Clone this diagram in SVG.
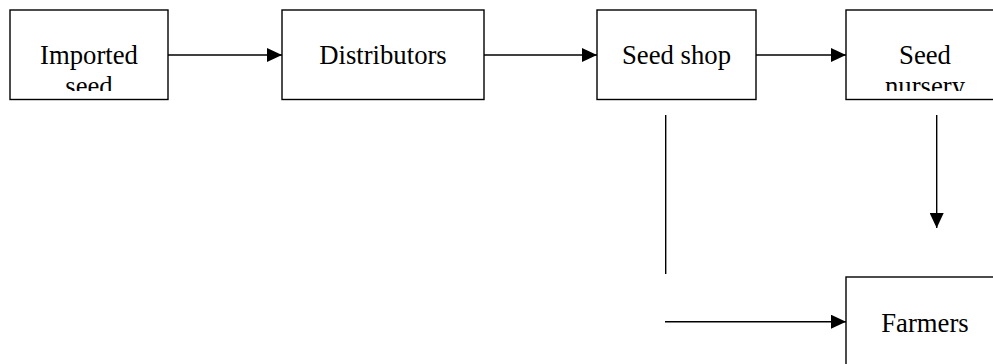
<svg xmlns="http://www.w3.org/2000/svg" width="993" height="364" viewBox="0 0 993 364">
  <style>
    .box { fill: #ffffff; stroke: #000000; stroke-width: 1.4; }
    .label { font-family: "Liberation Serif", "Times New Roman", serif; font-size: 26.7px; fill: #000000; text-anchor: middle; }
    .link { fill: none; stroke: #000000; stroke-width: 1.4; }
  </style>
  <defs>
    <marker id="arrow" markerWidth="15" markerHeight="14" refX="15" refY="7" orient="auto" markerUnits="userSpaceOnUse">
      <path d="M0,0 L15,7 L0,14 Z" fill="#000000"/>
    </marker>
    <!-- inner text areas: second lines are cut off by the frame -->
    <clipPath id="clip-imported"><rect x="10" y="10" width="158" height="81"/></clipPath>
    <clipPath id="clip-nursery"><rect x="846" y="10" width="158" height="81"/></clipPath>
  </defs>
  <rect width="993" height="364" fill="#ffffff"/>

  <g id="imported-seed">
    <rect class="box" x="10" y="10" width="158" height="89.5"/>
    <g clip-path="url(#clip-imported)">
      <text class="label" x="89" y="64">Imported</text>
      <text class="label" x="89" y="95">seed</text>
    </g>
  </g>

  <g id="distributors">
    <rect class="box" x="282" y="10" width="202" height="89.5"/>
    <text class="label" x="383" y="64">Distributors</text>
  </g>

  <g id="seed-shop">
    <rect class="box" x="597" y="10" width="159" height="89.5"/>
    <text class="label" x="676.5" y="64">Seed shop</text>
  </g>

  <g id="seed-nursery">
    <rect class="box" x="846" y="10" width="158" height="89.5"/>
    <g clip-path="url(#clip-nursery)">
      <text class="label" x="925" y="64">Seed</text>
      <text class="label" x="925" y="95">nursery</text>
    </g>
  </g>

  <g id="farmers">
    <rect class="box" x="846" y="277" width="158" height="100"/>
    <text class="label" x="925" y="332">Farmers</text>
  </g>

  <g id="connectors">
    <line class="link" x1="168" y1="55" x2="282" y2="55" marker-end="url(#arrow)"/>
    <line class="link" x1="484" y1="55" x2="597" y2="55" marker-end="url(#arrow)"/>
    <line class="link" x1="756" y1="55" x2="846" y2="55" marker-end="url(#arrow)"/>
    <line class="link" x1="665.7" y1="115" x2="665.7" y2="274"/>
    <line class="link" x1="665" y1="321.7" x2="846" y2="321.7" marker-end="url(#arrow)"/>
    <line class="link" x1="936.7" y1="115" x2="936.7" y2="228" marker-end="url(#arrow)"/>
  </g>
</svg>
